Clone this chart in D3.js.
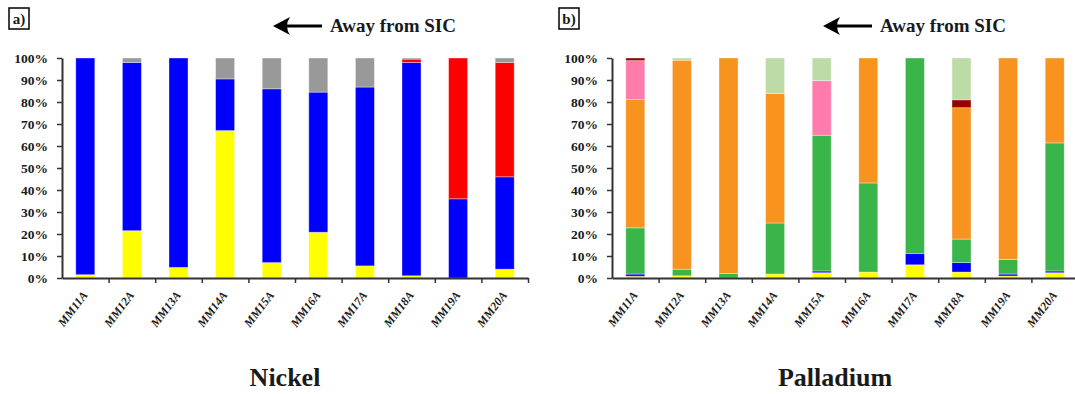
<!DOCTYPE html>
<html lang="en">
<head>
<meta charset="UTF-8">
<script src="https://cdn.jsdelivr.net/npm/d3@7"></script>
<title>Nickel / Palladium</title>
<style>
body{margin:0;background:#fff;}
svg text{font-family:"Liberation Serif",serif;font-weight:bold;fill:#1a1a1a;}
</style>
</head>
<body>
<svg id="vis" width="1075" height="394"></svg>
<script>
var samples = ["MM11A","MM12A","MM13A","MM14A","MM15A","MM16A","MM17A","MM18A","MM19A","MM20A"];
var yTicks = [0,10,20,30,40,50,60,70,80,90,100];

// Nickel (%), bottom -> top
var niYellow = [1.5,21.5,4.8,67,7,20.8,5.5,1,0,4];
var niBlue   = [98.5,76.5,95.2,23.5,79,63.7,81.3,97,36,42];
var niRed    = [0,0,0,0,0,0,0,1.5,64,52];
var niGray   = [0,2,0,9.5,14,15.5,13.2,0.5,0,2];

// Palladium (%), bottom -> top
var pdYellow     = [0.8,1,0,1.8,2.4,2.7,6,2.7,0.9,2.4];
var pdBlue       = [1,0,0,0,0.8,0,5.2,4.3,0.9,0.8];
var pdGreen      = [21,3,2,23.2,61.7,40.5,88.8,10.7,6.7,58.2];
var pdOrange     = [58.3,95,98,58.8,0,56.8,0,59.7,91.5,38.6];
var pdPink       = [17.7,0,0,0,24.8,0,0,0,0,0];
var pdDarkRed    = [1.2,0,0,0,0,0,0,3.6,0,0];
var pdLightGreen = [0,1,0,16.2,10.3,0,0,19,0,0];

var svg = d3.select("#vis");
svg.append("rect").attr("width",1075).attr("height",394).attr("fill","#fff");

var y = d3.scaleLinear().domain([0,100]).range([278,58]);

function drawPanel(x0, series, colors, letter, title){
	// table for d3.stack
	var keys = series.map(function(s,i){return "s"+i;});
	var rows = samples.map(function(name,j){
		var r = {name:name};
		series.forEach(function(s,i){ r["s"+i] = s[j]; });
		return r;
	});
	var stacked = d3.stack().keys(keys)(rows);

	var x = d3.scaleBand().domain(samples).range([x0, x0+466])
		.paddingInner(0.592).paddingOuter(0.296);

	var g = svg.append("g");

	g.selectAll("g.layer").data(stacked).enter().append("g")
		.attr("class","layer")
		.attr("fill", function(d,i){return colors[i];})
		.selectAll("rect").data(function(d){return d;}).enter().append("rect")
		.attr("x", function(d){return x(d.data.name);})
		.attr("width", x.bandwidth())
		.attr("y", function(d){return y(d[1]);})
		.attr("height", function(d){return y(d[0]) - y(d[1]);})
		.attr("stroke","#fff").attr("stroke-opacity",0.45).attr("stroke-width",0.8);

	// y axis
	var yAxis = d3.axisLeft(y).tickValues(yTicks)
		.tickFormat(function(d){return d+"%";})
		.tickSize(5).tickSizeOuter(0).tickPadding(9);
	var gy = g.append("g").attr("transform","translate("+x0+",0)").call(yAxis);
	gy.select(".domain").attr("stroke","#333").attr("stroke-width",2);
	gy.selectAll(".tick line").attr("stroke","#333").attr("stroke-width",1.5);
	gy.selectAll(".tick text").attr("font-size",13.5).attr("font-family","Liberation Serif").attr("font-weight","bold").attr("fill","#1a1a1a");

	// x axis, ticks on the band boundaries
	var xb = d3.scaleLinear().domain([0,samples.length]).range([x0, x0+466]);
	var xAxis = d3.axisBottom(xb).tickValues(d3.range(1,samples.length+1))
		.tickFormat("").tickSize(5).tickSizeOuter(0);
	var gx = g.append("g").attr("transform","translate(0,278)").call(xAxis);
	gx.select(".domain").attr("stroke","#333").attr("stroke-width",2);
	gx.selectAll(".tick line").attr("stroke","#333").attr("stroke-width",1.5);

	// rotated sample labels
	g.selectAll("text.xl").data(samples).enter().append("text")
		.attr("class","xl")
		.attr("font-size",12).attr("font-style","italic")
		.attr("text-anchor","end")
		.attr("transform", function(d){
			return "translate("+(x(d)+x.bandwidth()/2+3)+",295) rotate(-53)";
		})
		.text(function(d){return d;});

	// panel letter in a box
	g.append("rect").attr("x",x0-53).attr("y",8).attr("width",20).attr("height",21)
		.attr("fill","none").attr("stroke","#000").attr("stroke-width",1.5);
	g.append("text").attr("x",x0-43).attr("y",24).attr("text-anchor","middle")
		.attr("font-size",15).text(letter);

	// arrow + caption
	var ax = x0 + 211;
	g.append("line").attr("x1",ax+49).attr("x2",ax+12).attr("y1",26).attr("y2",26)
		.attr("stroke","#000").attr("stroke-width",3);
	g.append("path")
		.attr("d","M"+ax+",26 L"+(ax+17)+",17 Q"+(ax+11)+",26 "+(ax+17)+",35 Z")
		.attr("fill","#000");
	g.append("text").attr("x",ax+57).attr("y",32).attr("font-size",19)
		.text("Away from SIC");

	// title
	g.append("text").attr("x",x0+223).attr("y",386).attr("text-anchor","middle")
		.attr("font-size",26).text(title);
}

drawPanel(62, [niYellow,niBlue,niRed,niGray],
	["#ffff00","#0000ff","#ff0000","#999999"], "a)", "Nickel");
drawPanel(612, [pdYellow,pdBlue,pdGreen,pdOrange,pdPink,pdDarkRed,pdLightGreen],
	["#ffff00","#0000ff","#39b54a","#f7931e","#ff7bac","#990000","#bddba6"], "b)", "Palladium");
</script>
</body>
</html>
